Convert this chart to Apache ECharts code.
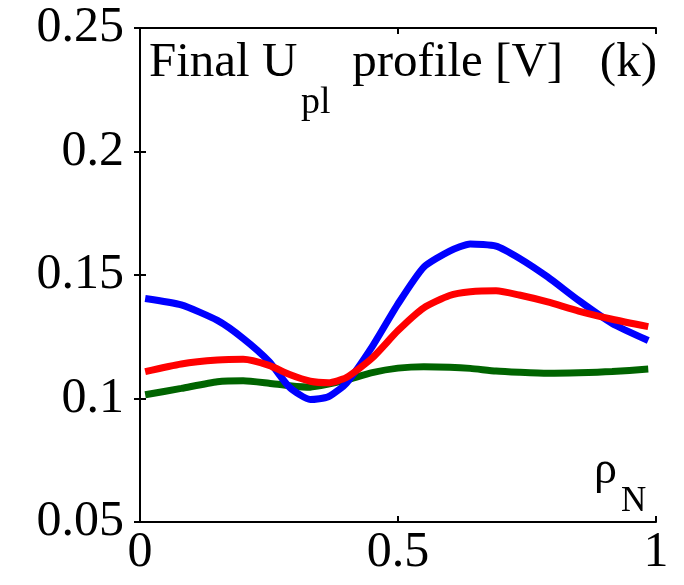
<!DOCTYPE html>
<html>
<head>
<meta charset="utf-8">
<script src="https://cdn.jsdelivr.net/npm/echarts@6/dist/echarts.min.js"></script>
<style>
  html, body { margin: 0; padding: 0; background: #fff; }
  #chart { width: 684px; height: 585px; }
</style>
</head>
<body>
<div id="chart"></div>
<script>
// normalised radius
const rho = [0.01, 0.08, 0.15, 0.2, 0.25, 0.29, 0.33, 0.365, 0.4, 0.45,
             0.5, 0.55, 0.6, 0.64, 0.69, 0.735, 0.79, 0.85, 0.915, 0.985]
const blueVals = [0.1405, 0.1379, 0.1316, 0.1243, 0.115, 0.1045, 0.0996, 0.1007, 0.1062, 0.121,
                  0.1383, 0.1532, 0.1597, 0.1626, 0.1617, 0.1568, 0.1492, 0.1397, 0.1304, 0.1235]
const redVals = [0.1109, 0.114, 0.1156, 0.1159, 0.1134, 0.1097, 0.107, 0.1064, 0.1085, 0.1164,
                 0.1275, 0.1367, 0.1417, 0.1432, 0.1436, 0.1419, 0.1391, 0.1354, 0.1321, 0.1291]
const greenVals = [0.1015, 0.1041, 0.1068, 0.1072, 0.1062, 0.1052, 0.1046, 0.1058, 0.1075, 0.1105,
                   0.1123, 0.1129, 0.1127, 0.1122, 0.1111, 0.1106, 0.1102, 0.1104, 0.1109, 0.1119]
const xTicks = [0, 0.5, 1]
const yTicks = [0.05, 0.1, 0.15, 0.2, 0.25]

const FONT = 'Liberation Serif'

function pairs(vals) {
  return rho.map((r, i) => [r, vals[i]])
}

function lineSeries(vals, color) {
  return {
    type: 'line',
    data: pairs(vals),
    smooth: 0.2,
    showSymbol: false,
    lineStyle: { color: color, width: 7, cap: 'butt' },
    itemStyle: { color: color },
    xAxisIndex: 0,
    yAxisIndex: 0,
  }
}

function label(text, size, pos) {
  return {
    type: 'text',
    ...pos,
    style: { text: text, font: size + 'px "Liberation Serif"', fill: '#000' },
  }
}

const axisLine = { show: true, lineStyle: { color: '#000', width: 2 } }
const axisTick = { show: true, inside: true, length: 6, lineStyle: { color: '#000', width: 2 } }

let chart = echarts.init(document.getElementById('chart'))
let option = {
  animation: false,
  backgroundColor: '#fff',
  grid: { left: 140, right: 28, top: 28, bottom: 63 },
  xAxis: [
    {
      type: 'value', min: 0, max: 1, interval: 0.5, position: 'bottom',
      axisLine: axisLine, axisTick: axisTick, splitLine: { show: false },
      axisLabel: {
        color: '#000', fontFamily: FONT, fontSize: 50, margin: 6,
        formatter: (v) => (xTicks.indexOf(v) >= 0 ? String(v) : ''),
      },
    },
    {
      type: 'value', min: 0, max: 1, interval: 0.5, position: 'top',
      axisLine: axisLine, axisTick: axisTick, splitLine: { show: false },
      axisLabel: { show: false },
    },
  ],
  yAxis: [
    {
      type: 'value', min: 0.05, max: 0.25, interval: 0.05, position: 'left',
      axisLine: axisLine, axisTick: axisTick, splitLine: { show: false },
      axisLabel: {
        color: '#000', fontFamily: FONT, fontSize: 50, margin: 16,
        formatter: (v) => {
          let t = yTicks.find((k) => Math.abs(k - v) < 1e-9)
          return t === undefined ? '' : String(t)
        },
      },
    },
    {
      type: 'value', min: 0.05, max: 0.25, interval: 0.05, position: 'right',
      axisLine: axisLine, axisTick: axisTick, splitLine: { show: false },
      axisLabel: { show: false },
    },
  ],
  graphic: [
    label('Final U', 49, { left: 149, top: 39 }),
    label('pl', 38, { left: 301, top: 84 }),
    label('profile [V]   (k)', 49, { right: 27, top: 39 }),
    label('ρ', 46, { left: 594, top: 448 }),
    label('N', 35, { left: 621, top: 484 }),
  ],
  series: [
    lineSeries(greenVals, '#006400'),
    lineSeries(blueVals, '#0000ff'),
    lineSeries(redVals, '#ff0000'),
  ],
}
chart.setOption(option)
</script>
</body>
</html>
